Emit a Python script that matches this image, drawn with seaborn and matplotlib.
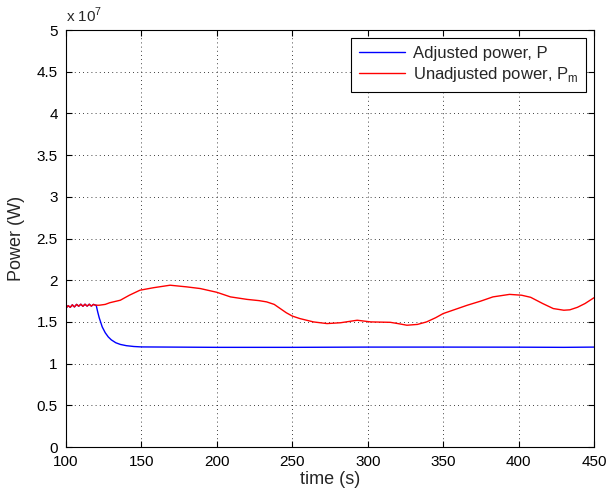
import matplotlib
matplotlib.use("Agg")
import matplotlib.pyplot as plt
import seaborn as sns
import pandas as pd
import numpy as np

# time (s) and power (x 1e7 W)
t_start = [100, 100.7, 101.4, 102.1, 102.8, 103.5, 104.2, 104.9, 105.6, 106.3, 107.0, 107.7, 108.4, 109.1, 109.8,
           110.5, 111.2, 111.9, 112.6, 113.3, 114.0, 114.7, 115.4, 116.1, 116.8, 117.5, 118.2, 118.9, 119.6]
p_start = [1.665, 1.68, 1.695, 1.685, 1.675, 1.69, 1.705, 1.69, 1.68, 1.695, 1.71, 1.70, 1.688, 1.70, 1.712,
           1.70, 1.688, 1.70, 1.712, 1.70, 1.69, 1.70, 1.712, 1.70, 1.69, 1.70, 1.71, 1.705, 1.70]

t_red = t_start + [122, 126, 129, 136, 142, 149, 158, 169, 180, 189, 200, 209, 220, 228, 233, 238, 242, 246, 250, 255, 264, 273,
                   282, 293, 302, 315, 320, 326, 333, 339, 345, 350, 358, 366, 375, 383, 394, 402, 408, 416, 423, 430,
                   434, 439, 444, 450]
p_red = p_start + [1.70, 1.71, 1.73, 1.76, 1.82, 1.88, 1.91, 1.94, 1.92, 1.90, 1.855, 1.80, 1.77, 1.755, 1.74, 1.71, 1.66, 1.61, 1.57, 1.54, 1.50, 1.48,
                   1.49, 1.52, 1.50, 1.495, 1.48, 1.46, 1.47, 1.50, 1.55, 1.60, 1.65, 1.70, 1.75, 1.80, 1.83, 1.82,
                   1.795, 1.72, 1.66, 1.64, 1.645, 1.675, 1.72, 1.79]

t_blue = t_start + [120, 121, 122, 124, 126, 128, 130, 133, 136, 140, 145, 150, 200, 250, 300, 350, 400, 430, 450]
p_blue = p_start + [1.70, 1.62, 1.55, 1.44, 1.37, 1.32, 1.285, 1.25, 1.23, 1.215, 1.205, 1.20, 1.195, 1.195, 1.198,
                    1.198, 1.197, 1.195, 1.198]

x_ticks = [100, 150, 200, 250, 300, 350, 400, 450]
y_ticks = [0, 0.5, 1, 1.5, 2, 2.5, 3, 3.5, 4, 4.5, 5]
y_tick_labels = ["0", "0.5", "1", "1.5", "2", "2.5", "3", "3.5", "4", "4.5", "5"]

df = pd.concat([
    pd.DataFrame({"t": t_blue, "p": p_blue, "s": "Adjusted power, P"}),
    pd.DataFrame({"t": t_red, "p": p_red, "s": "Unadjusted power, P$_\\mathregular{m}$"}),
])

sns.set_style("white")
plt.rcParams['font.family'] = ['Liberation Sans', 'DejaVu Sans']
plt.rcParams['mathtext.fontset'] = 'custom'
plt.rcParams['mathtext.rm'] = 'Liberation Sans'

fig = plt.figure(figsize=(6.09, 4.97), dpi=100)
ax = fig.add_axes([0.1084, 0.1006, 0.8670, 0.8390])

sns.lineplot(data=df, x="t", y="p", hue="s", palette=["#0000ff", "#ff0000"],
             linewidth=1.0, ax=ax, sort=False, estimator=None)

ax.set_xlim(100, 450)
ax.set_ylim(0, 5)
ax.set_xticks(x_ticks)
ax.set_yticks(y_ticks)
ax.set_yticklabels(y_tick_labels)
ax.tick_params(direction="in", length=4, width=0.8, labelsize=11, colors="black",
               top=True, right=True, bottom=True, left=True, pad=6)
ax.grid(True, color="black", linestyle=(0, (1, 4)), linewidth=0.6)
for s in ax.spines.values():
    s.set_color("black")
    s.set_linewidth(0.8)

ax.set_xlabel("time (s)", fontsize=13, labelpad=1)
ax.set_ylabel("Power (W)", fontsize=13, labelpad=8)
ax.text(0.0, 1.012, "x 10$^{7}$", transform=ax.transAxes, fontsize=11, ha="left", va="bottom")

leg = ax.legend(loc="upper right", fontsize=12, frameon=True, fancybox=False,
                edgecolor="black", framealpha=1, borderaxespad=0.5,
                handlelength=2.8, handletextpad=0.45, borderpad=0.45, labelspacing=0.25)
leg.get_frame().set_linewidth(0.8)

fig.savefig("out.png", dpi=100)
